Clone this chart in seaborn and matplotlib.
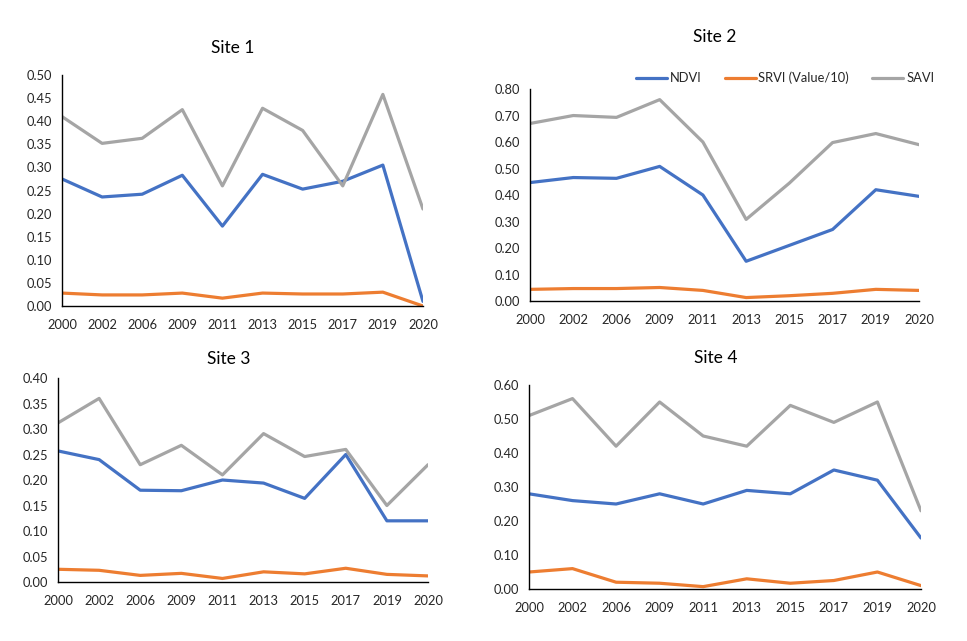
import pandas as pd
import matplotlib
matplotlib.use("Agg")
import matplotlib.pyplot as plt
import seaborn as sns

# Years on the category axis
years = ["2000", "2002", "2006", "2009", "2011", "2013", "2015", "2017", "2019", "2020"]
series_names = ["NDVI", "SRVI (Value/10)", "SAVI"]

# Site 1
site1_ndvi = [0.275, 0.236, 0.242, 0.283, 0.173, 0.285, 0.253, 0.270, 0.305, 0.010]
site1_srvi = [0.028, 0.024, 0.024, 0.028, 0.017, 0.028, 0.026, 0.026, 0.030, 0.000]
site1_savi = [0.410, 0.352, 0.363, 0.425, 0.260, 0.428, 0.380, 0.260, 0.458, 0.210]

# Site 2
site2_ndvi = [0.447, 0.466, 0.463, 0.508, 0.400, 0.150, 0.210, 0.270, 0.420, 0.395]
site2_srvi = [0.044, 0.047, 0.047, 0.051, 0.040, 0.013, 0.020, 0.029, 0.044, 0.040]
site2_savi = [0.670, 0.700, 0.693, 0.760, 0.600, 0.308, 0.445, 0.598, 0.632, 0.590]

# Site 3
site3_ndvi = [0.257, 0.240, 0.180, 0.179, 0.200, 0.194, 0.164, 0.250, 0.120, 0.120]
site3_srvi = [0.025, 0.023, 0.013, 0.017, 0.007, 0.020, 0.016, 0.027, 0.015, 0.012]
site3_savi = [0.312, 0.360, 0.230, 0.268, 0.210, 0.291, 0.246, 0.260, 0.150, 0.230]

# Site 4
site4_ndvi = [0.28, 0.26, 0.25, 0.28, 0.25, 0.29, 0.28, 0.35, 0.32, 0.15]
site4_srvi = [0.050, 0.060, 0.020, 0.017, 0.007, 0.030, 0.017, 0.025, 0.050, 0.010]
site4_savi = [0.51, 0.56, 0.42, 0.55, 0.45, 0.42, 0.54, 0.49, 0.55, 0.23]

sites = {
    "Site 1": (site1_ndvi, site1_srvi, site1_savi),
    "Site 2": (site2_ndvi, site2_srvi, site2_savi),
    "Site 3": (site3_ndvi, site3_srvi, site3_savi),
    "Site 4": (site4_ndvi, site4_srvi, site4_savi),
}

# y axis limits / steps per site
y_max = {"Site 1": 0.50, "Site 2": 0.80, "Site 3": 0.40, "Site 4": 0.60}
y_step = {"Site 1": 0.05, "Site 2": 0.10, "Site 3": 0.05, "Site 4": 0.10}

palette = {"NDVI": "#4472C4", "SRVI (Value/10)": "#ED7D31", "SAVI": "#A5A5A5"}

sns.set_style("white")
plt.rcParams["font.family"] = ["Lato", "DejaVu Sans"]
text_color = "#262626"

fig = plt.figure(figsize=(9.67, 6.41), dpi=100)

# axes boxes [left, bottom, width, height] and title positions
boxes = {
    "Site 1": [0.0641, 0.5226, 0.3733, 0.3604],
    "Site 2": [0.5481, 0.5304, 0.4023, 0.3307],
    "Site 3": [0.0600, 0.0920, 0.3826, 0.3183],
    "Site 4": [0.5470, 0.0811, 0.4054, 0.3183],
}
titles_at = {
    "Site 1": (0.241, 0.925),
    "Site 2": (0.739, 0.942),
    "Site 3": (0.237, 0.440),
    "Site 4": (0.740, 0.441),
}

for name, values in sites.items():
    df = pd.DataFrame({
        "pos": list(range(len(years))) * 3,
        "value": values[0] + values[1] + values[2],
        "series": [s for s in series_names for _ in years],
    })
    ax = fig.add_axes(boxes[name])
    sns.lineplot(data=df, x="pos", y="value", hue="series", palette=palette,
                 hue_order=series_names, linewidth=2.3, ax=ax, legend=False)
    ax.set_xlim(0, len(years) - 1)
    ax.set_ylim(0, y_max[name])
    n_steps = int(round(y_max[name] / y_step[name]))
    yt = [i * y_step[name] for i in range(n_steps + 1)]
    ax.set_yticks(yt)
    ax.set_yticklabels([f"{v:.2f}" for v in yt])
    ax.set_xticks(range(len(years)))
    ax.set_xticklabels(years)
    ax.set_xlabel("")
    ax.set_ylabel("")
    sns.despine(ax=ax)
    for side in ["left", "bottom"]:
        ax.spines[side].set_color("black")
        ax.spines[side].set_linewidth(1.0)
    ax.tick_params(axis="both", direction="out", length=4, width=1,
                   color="black", labelsize=9.3, labelcolor=text_color, pad=3)
    ax.tick_params(axis="x", pad=5)
    fig.text(titles_at[name][0], titles_at[name][1], name, ha="center",
             va="center", fontsize=12.5, color="black")

# legend shared, drawn above Site 2
handles = [plt.Line2D([], [], color=palette[s], linewidth=2.3) for s in series_names]
fig.legend(handles, series_names, loc="center", bbox_to_anchor=(0.812, 0.878),
           ncol=3, frameon=False, fontsize=9.3, handlelength=2.4,
           handletextpad=0.2, columnspacing=1.8, labelcolor=text_color)

fig.savefig("out.png", dpi=100)
